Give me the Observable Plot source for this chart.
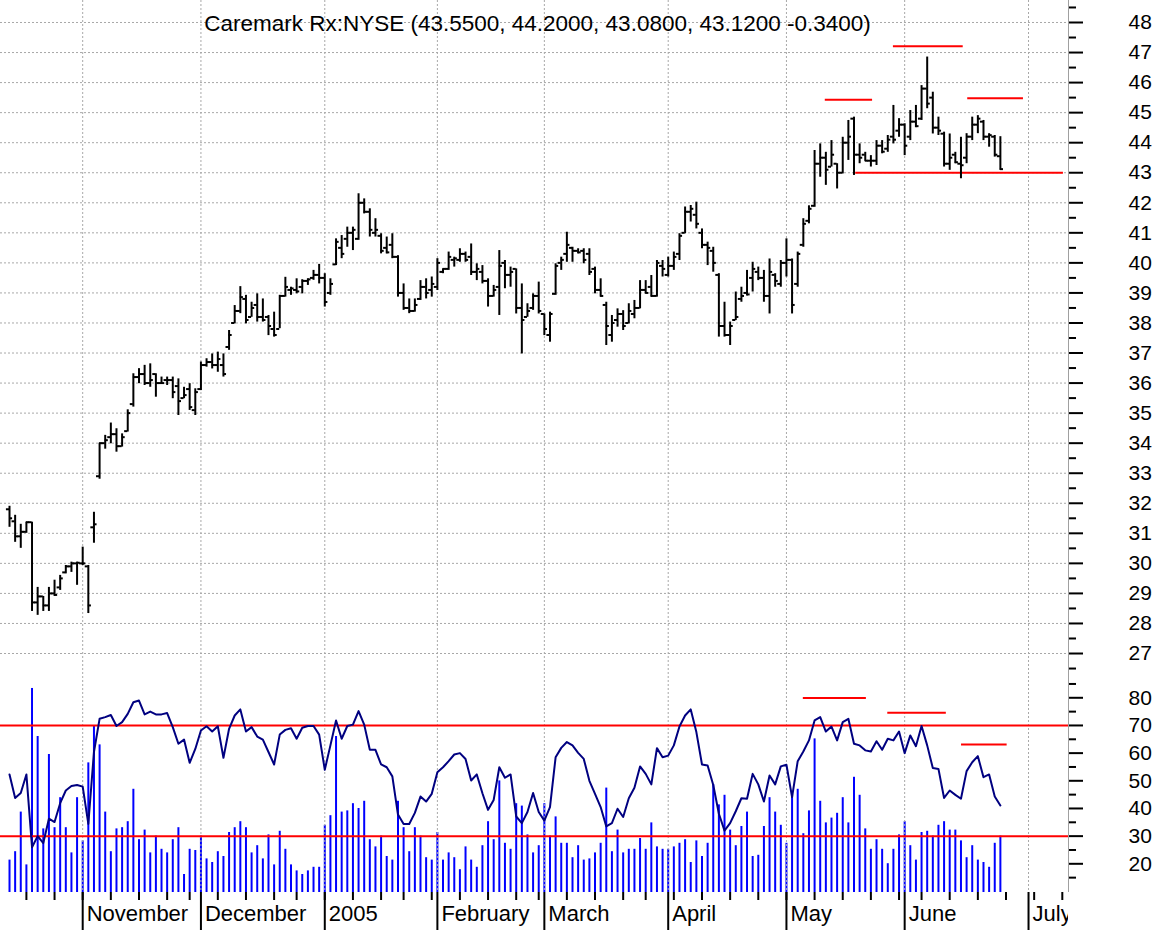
<!DOCTYPE html>
<html><head><meta charset="utf-8">
<script src="https://cdn.jsdelivr.net/npm/d3@7"></script>
<script src="https://cdn.jsdelivr.net/npm/@observablehq/plot@0.6"></script>
<style>
body{margin:0;background:#fff;}
#chart{position:relative;width:1163px;height:930px;overflow:hidden;background:#fff;}
#chart svg{position:absolute;left:0;}
</style></head><body><div id="chart"></div>
<script>
const title = "Caremark Rx:NYSE (43.5500, 44.2000, 43.0800, 43.1200 -0.3400)";
// trading days from 2004-10-13 (index 0) to 2005-06-24 (index 176)
const open = [31.8,31.4,30.9,31.05,31.37,28.7,28.9,28.6,29.0,29.2, 29.7,29.9,30.0,30.0,29.9,31.2,32.9,34.0,34.2,34.3, 33.9,34.4,35.3,36.2,36.3,36.0,36.3,36.0,36.1,36.1, 35.9,35.5,35.8,35.1,35.8,36.6,36.7,36.6,36.6,37.2, 38.0,38.4,38.8,38.2,38.6,38.2,38.2,37.8,37.8,38.9, 39.1,39.1,39.2,39.4,39.5,39.6,39.5,39.0,39.95,40.5, 40.8,41.0,40.8,42.0,41.7,41.0,40.9,40.5,40.6,40.2, 39.0,38.5,38.4,38.8,39.2,39.1,39.2,39.7,39.8,40.1, 40.1,40.3,40.2,39.7,39.7,39.4,38.9,39.2,40.0,39.6, 39.8,38.5,38.2,38.5,38.9,38.3,37.6,38.97,40.0,40.3, 40.5,40.4,40.4,40.3,39.8,39.1,38.6,37.6,38.1,38.3, 38.0,38.3,38.5,39.1,39.2,38.9,39.9,39.6,39.9,40.3, 41.0,41.7,41.6,41.0,40.6,40.4,39.6,37.9,37.6,38.1, 38.8,39.0,39.5,39.7,39.5,38.9,39.6,39.3,40.0,40.1, 39.3,40.6,41.4,41.9,43.3,43.5,43.2,43.3,43.0,44.0, 44.8,43.6,43.6,43.4,43.4,43.9,43.8,44.2,44.4,44.6, 44.2,44.7,44.8,45.8,45.5,44.5,44.3,43.3,43.6,43.3, 43.5,44.2,44.6,44.7,44.2,44.2,43.55];
const high = [31.9,31.6,31.3,31.37,31.37,29.2,28.9,29.2,29.44,29.6, 29.93,30.04,30.04,30.54,29.93,31.7,34.0,34.26,34.67,34.48, 34.31,35.11,36.31,36.48,36.59,36.64,36.31,36.2,36.2,36.2, 36.14,35.86,35.98,35.81,36.7,36.81,36.97,37.03,36.97,37.75, 38.58,39.21,38.92,38.69,38.97,38.8,38.25,38.36,38.92,39.52, 39.19,39.47,39.44,39.47,39.75,39.95,39.64,39.47,40.8,40.91, 41.19,41.19,42.3,42.13,41.8,41.47,40.97,40.86,40.97,40.24, 39.3,38.8,38.8,39.41,39.47,39.53,40.14,39.8,40.36,40.19, 40.47,40.36,40.63,39.97,39.91,39.47,39.25,40.41,40.08,39.86, 39.8,39.3,38.64,38.97,39.36,38.3,38.36,39.97,40.19,41.02, 40.52,40.47,40.47,40.47,39.86,39.47,38.69,38.25,38.47,38.41, 38.64,38.75,39.41,39.41,39.58,40.08,40.08,40.19,40.36,40.97, 41.86,41.91,42.02,41.13,40.69,40.52,39.64,38.69,38.03,39.03, 39.19,39.75,40.02,39.86,39.75,40.13,39.64,40.08,40.8,40.13, 40.36,41.47,41.9,43.74,43.96,43.68,44.07,43.3,44.18,44.74, 44.85,43.96,43.68,43.57,44.07,44.07,44.24,45.24,44.8,44.63, 45.07,45.24,45.9,46.85,45.68,44.85,44.35,44.29,43.68,44.18, 44.3,44.85,44.9,44.74,44.3,44.24,44.2];
const low = [31.2,30.7,30.5,31.0,28.4,28.27,28.4,28.4,28.9,29.1, 29.65,29.7,29.27,29.93,28.33,30.67,32.8,33.8,33.98,33.7, 33.87,34.37,35.2,35.98,35.92,35.86,35.53,35.98,35.92,35.48, 34.92,35.48,35.09,34.92,35.75,36.53,36.47,36.36,36.2,37.09, 37.97,38.31,37.97,38.19,38.03,38.03,37.58,37.53,37.81,38.86, 38.92,38.97,38.97,39.25,39.42,39.3,38.53,38.92,39.91,40.14, 40.52,40.41,40.75,41.63,40.86,40.86,40.3,40.3,40.14,38.86, 38.42,38.31,38.36,38.75,38.8,38.86,39.08,39.64,39.75,39.86, 40.02,40.02,39.58,39.41,39.3,38.53,38.86,38.25,39.14,39.19, 38.3,36.97,38.19,38.42,38.3,37.58,37.36,38.92,39.75,40.02, 40.02,40.3,39.97,39.58,38.97,38.86,37.25,37.36,37.86,37.75, 37.97,38.14,38.47,38.97,38.86,38.86,39.53,39.53,39.75,40.08, 40.97,41.36,41.13,40.47,39.91,39.69,37.53,37.53,37.25,38.08, 38.69,38.9,39.03,39.41,38.69,38.3,39.19,39.19,39.53,38.3, 39.19,40.52,41.3,41.85,42.85,42.58,43.19,42.46,42.96,43.41, 42.91,43.3,43.38,43.19,43.24,43.63,43.68,43.96,44.18,43.57, 44.07,44.5,44.74,45.13,44.29,44.24,43.19,43.08,43.3,42.8, 43.3,44.07,44.3,44.07,43.85,43.52,43.08];
const close = [31.5,30.9,31.05,31.37,28.7,28.9,28.6,29.0,28.95,29.5, 29.9,30.0,30.02,30.0,28.6,31.3,34.0,34.1,34.3,33.9, 34.2,35.0,36.2,36.3,36.0,36.1,36.0,36.0,36.1,35.7, 35.4,35.6,35.2,35.7,36.6,36.7,36.6,36.8,36.3,37.6, 38.4,38.86,38.1,38.5,38.2,38.1,37.9,37.6,38.9,39.2, 39.15,39.05,39.4,39.45,39.6,39.5,38.7,39.3,40.7,40.3, 41.0,41.1,42.0,41.7,41.1,41.1,40.4,40.35,40.2,39.0, 38.5,38.4,38.6,39.2,39.0,39.3,40.0,39.8,40.2,40.15, 40.3,40.1,39.7,39.8,39.4,38.9,39.1,39.9,39.6,39.7, 38.5,38.1,38.4,38.9,38.4,37.8,38.3,39.9,40.1,40.6, 40.4,40.35,40.1,39.7,39.1,38.9,37.9,38.0,38.3,37.9, 38.4,38.5,39.1,39.0,38.9,40.0,39.8,39.9,40.2,40.9, 41.7,41.8,41.3,40.6,40.5,40.0,37.9,37.6,37.9,38.2, 38.9,38.95,39.8,39.5,38.9,39.7,39.4,40.0,40.1,38.6, 40.3,41.3,41.8,43.3,43.5,43.1,43.6,43.0,44.0,44.2, 43.6,43.5,43.4,43.4,43.9,43.7,44.1,44.1,44.6,43.9, 44.7,44.55,45.8,45.3,44.5,44.4,43.3,43.5,43.35,43.25, 44.2,44.6,44.8,44.2,44.25,43.6,43.12];
const rsi = [52.3,43.8,45.6,52.3,26.0,30.0,27.5,36.3,35.1,41.9, 46.5,48.1,48.5,47.9,34.4,60.4,72.4,73.0,73.8,69.8, 71.2,74.2,78.4,79.0,74.0,75.0,74.0,74.0,74.5,69.4, 63.4,64.9,56.5,61.5,68.2,69.7,67.8,69.7,58.3,68.8, 73.6,75.8,67.8,69.4,66.0,64.9,60.4,55.9,66.7,68.4, 69.0,65.2,69.2,69.8,69.8,66.7,54.0,62.8,71.8,65.2, 69.8,70.3,75.2,70.3,61.2,61.2,55.9,54.9,51.6,37.8, 34.4,34.4,38.4,44.3,42.5,45.3,53.1,54.9,57.1,59.5, 60.0,57.9,50.1,52.3,45.5,39.5,43.1,54.9,51.1,52.3, 37.1,34.7,38.7,45.6,38.7,35.6,40.5,58.5,61.9,64.0, 62.8,60.1,57.9,50.0,45.3,40.5,33.5,34.7,39.9,36.9, 43.7,47.5,55.2,52.5,48.7,61.8,58.5,59.1,62.8,69.6, 73.6,75.8,67.6,55.9,55.5,48.5,38.1,32.0,34.7,39.0, 43.7,43.5,52.5,48.7,42.5,51.9,48.7,55.2,55.8,44.1, 57.1,60.6,64.6,71.8,73.0,67.8,69.6,64.6,71.2,72.4, 63.4,62.8,61.0,60.6,64.3,61.2,65.2,64.6,67.8,60.0, 66.4,62.5,69.8,62.8,54.6,54.3,43.8,46.5,44.9,43.5, 53.5,56.7,58.9,51.3,52.3,44.3,41.1];
// volume, millions of shares (estimated)
const volume = [2.7,3.4,6.7,2.3,17.0,13.0,5.3,11.5,5.4,7.9, 5.4,3.3,7.9,4.3,10.8,13.9,12.3,6.7,3.4,5.3, 5.4,5.9,8.6,4.4,5.2,3.3,4.7,3.6,3.3,4.4, 5.4,1.5,3.6,3.5,4.7,2.8,2.5,3.4,3.0,5.0, 5.4,5.9,5.4,3.3,3.9,2.8,4.8,2.3,5.1,3.6, 2.3,1.8,1.5,1.8,2.1,2.1,5.6,6.4,13.0,6.7, 6.8,7.4,7.0,7.6,4.4,3.8,4.7,3.0,2.7,7.6, 5.4,3.4,5.4,4.7,2.9,2.7,5.0,2.7,3.3,2.9, 1.9,3.8,2.7,2.1,3.9,5.9,4.4,9.3,4.1,3.6, 7.4,7.2,4.8,3.3,3.9,7.4,4.7,6.3,4.1,4.1, 2.9,3.9,2.7,2.8,3.3,4.1,8.7,3.4,5.2,3.3, 3.6,3.6,4.5,3.6,5.8,3.8,3.6,3.6,3.8,4.1, 4.4,2.5,4.3,3.0,4.1,9.0,7.3,8.1,5.2,3.9, 5.5,6.7,3.0,3.1,5.5,7.9,6.7,5.6,4.1,8.2, 8.6,4.9,6.8,12.8,7.6,5.8,6.2,6.6,7.9,5.8, 9.6,8.1,5.3,3.6,4.4,3.6,2.4,3.6,4.8,5.9, 3.9,2.7,5.0,5.1,4.7,5.6,5.9,5.2,5.2,4.3, 2.9,3.9,2.7,2.5,2.1,4.1,4.7];
const monthStart = [13,34,56,76,95,117,138,159,181];
const monthLabels = ["November","December","2005","February","March","April","May","June","July"];
const weekStart = [3,8,13,18,23,28,32,37,42,47,51,56,61,66,70,75,80,85,90,94,99,104,109,113,118,123,128,133,138,143,148,153,158,162,167,172,177,182,187];
const priceTicks = d3.range(27, 49);
const priceMinor = d3.range(26.5, 49, 1);
const rsiTicks = [20,30,40,50,60,70,80];
const rsiMinor = [15,25,35,45,55,65,75,85];
const rsiBands = [30,70];
// head-and-shoulders annotation lines (x in trading-day index)
const priceLines = [{x1:150.3,x2:187.2,y:43.0},{x1:144.9,x2:153.3,y:45.43},{x1:157.0,x2:169.4,y:47.21},{x1:170.2,x2:180.1,y:45.48}];
const rsiLines = [{x1:141.0,x2:152.2,y:79.9},{x1:156.0,x2:166.4,y:74.6},{x1:169.1,x2:177.2,y:63.1}];

const xDomain = [-1.6, 188.1];
const W = 1163, MR = 95;
const font = "'Liberation Sans', Arial, Helvetica, sans-serif";
const bars = open.map((o, i) => ({i, o, h: high[i], l: low[i], c: close[i]}));
const vols = volume.map((v, i) => ({i, v}));
const rsiPts = rsi.map((v, i) => ({i, v}));
const baseStyle = {background: "transparent", fontFamily: font, fontSize: "21px", color: "#000", overflow: "visible"};
const grid = {stroke: "#a8a8a8", strokeDasharray: "2,2", strokeWidth: 1, strokeOpacity: 1};

const pricePlot = Plot.plot({
  width: W, height: 672, marginLeft: 0, marginRight: MR, marginTop: 0, marginBottom: 0,
  style: baseStyle,
  x: {domain: xDomain, axis: null},
  y: {domain: [26.368, 48.732]},
  marks: [
    Plot.ruleY(priceTicks, grid),
    Plot.ruleX(monthStart, grid),
    Plot.ruleX([xDomain[1]], {stroke: "#a0a0a0", strokeWidth: 1}),
    Plot.axisY(priceMinor, {anchor: "right", tickSize: 7, strokeWidth: 2, tickFormat: () => ""}),
    Plot.axisY(priceTicks, {anchor: "right", tickSize: 14, tickPadding: 46, strokeWidth: 2, fontSize: 21}),
    Plot.ruleY(priceLines, {y: "y", x1: "x1", x2: "x2", stroke: "#ff0000", strokeWidth: 2}),
    Plot.ruleX(bars, {x: "i", y1: "l", y2: "h", stroke: "#000", strokeWidth: 2}),
    Plot.ruleY(bars, {y: "o", x1: d => d.i - 0.55, x2: "i", stroke: "#000", strokeWidth: 2}),
    Plot.ruleY(bars, {y: "c", x1: "i", x2: d => d.i + 0.55, stroke: "#000", strokeWidth: 2}),
    Plot.text([title], {frameAnchor: "top", dy: 30, dx: 3, fontSize: 22.5, fill: "#000", lineAnchor: "bottom"})
  ]
});

const volPlot = Plot.plot({
  width: W, height: 220, marginLeft: 0, marginRight: MR, marginTop: 0, marginBottom: 0,
  style: baseStyle,
  x: {domain: xDomain, axis: null},
  y: {domain: [0, 18.33], axis: null},
  marks: [
    Plot.ruleX(vols, {x: "i", y1: 0, y2: "v", stroke: "#0000ff", strokeWidth: 2})
  ]
});

const rsiPlot = Plot.plot({
  width: W, height: 220, marginLeft: 0, marginRight: MR, marginTop: 0, marginBottom: 0,
  style: baseStyle,
  x: {domain: xDomain, axis: null},
  y: {domain: [9.63, 89.14]},
  marks: [
    Plot.ruleX(monthStart, grid),
    Plot.ruleY(rsiBands, {stroke: "#ff0000", strokeWidth: 2}),
    Plot.ruleY(rsiLines, {y: "y", x1: "x1", x2: "x2", stroke: "#ff0000", strokeWidth: 2}),
    Plot.line(rsiPts, {x: "i", y: "v", stroke: "#000080", strokeWidth: 2}),
    Plot.ruleX([xDomain[1]], {stroke: "#a0a0a0", strokeWidth: 1}),
    Plot.axisY(rsiMinor, {anchor: "right", tickSize: 7, strokeWidth: 2, tickFormat: () => ""}),
    Plot.axisY(rsiTicks, {anchor: "right", tickSize: 14, tickPadding: 46, strokeWidth: 2, fontSize: 21})
  ]
});

const axisPlot = Plot.plot({
  width: 1068, height: 258, marginLeft: 0, marginRight: 0, marginTop: 0, marginBottom: 38,
  style: {...baseStyle, overflow: "hidden"},
  x: {domain: xDomain},
  marks: [
    Plot.axisX(weekStart, {anchor: "bottom", tickSize: 8, strokeWidth: 2, tickFormat: () => ""}),
    Plot.axisX(monthStart, {anchor: "bottom", tickSize: 40, strokeWidth: 2, tickFormat: () => ""}),
    Plot.axisX(monthStart, {anchor: "bottom", tickSize: 0, tickPadding: 13, textAnchor: "start", dx: 4, fontSize: 22,
      tickFormat: d => monthLabels[monthStart.indexOf(d)]})
  ]
});

const chart = document.getElementById("chart");
[[pricePlot, 0], [volPlot, 672], [rsiPlot, 672], [axisPlot, 672]].forEach(([svg, top]) => {
  svg.style.position = "absolute";
  svg.style.top = top + "px";
  svg.style.left = "0px";
  chart.appendChild(svg);
});
</script></body></html>
